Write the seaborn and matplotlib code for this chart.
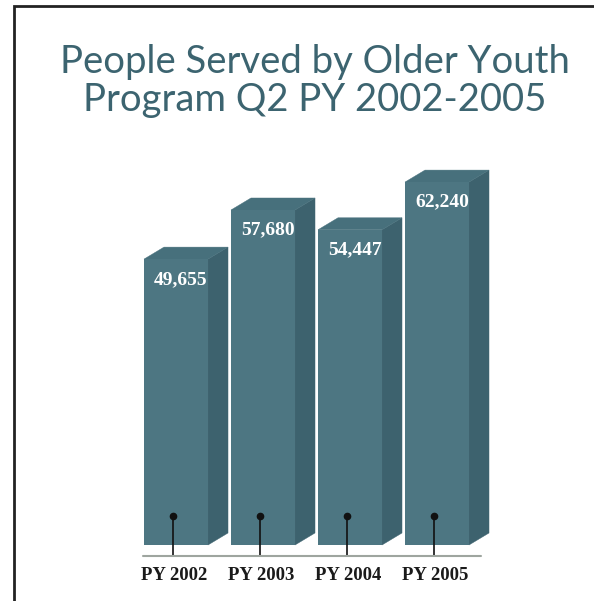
import matplotlib
matplotlib.use("Agg")
import matplotlib.pyplot as plt
from matplotlib.patches import Polygon
from matplotlib.lines import Line2D
import seaborn as sns
import pandas as pd

# Chart data
years = ["PY 2002", "PY 2003", "PY 2004", "PY 2005"]
people_served = [49655, 57680, 54447, 62240]
title = "People Served by Older Youth\nProgram Q2 PY 2002-2005"

FRONT = "#4d7682"
SIDE = "#3d626e"
TOP = "#47707c"
TITLE_COLOR = "#3c6470"

sns.set_theme(style="white")
plt.rcParams["font.family"] = ["Lato", "DejaVu Sans"]

W, H = 594, 601
fig = plt.figure(figsize=(W / 100, H / 100), dpi=100)

# axes placed in pixel terms
ax_left, ax_right, ax_bottom_px, ax_top_px = 130, 500, 545, 150
ax = fig.add_axes([ax_left / W, 1 - ax_bottom_px / H,
                   (ax_right - ax_left) / W, (ax_bottom_px - ax_top_px) / H])

df = pd.DataFrame({"year": years, "people": people_served})
bar_w = 0.736
sns.barplot(data=df, x="year", y="people", color=FRONT, saturation=1,
            width=bar_w, ax=ax, zorder=3, errorbar=None, linewidth=0)
bars = list(ax.patches)

px_per_unit_x = 87.0
px_per_unit_y = 0.00612
y0 = 2940
ax.set_xlim(-(176 - ax_left) / px_per_unit_x, 3 + (ax_right - 437) / px_per_unit_x)
ax.set_ylim(y0, y0 + (ax_bottom_px - ax_top_px) / px_per_unit_y)

dx = 20 / px_per_unit_x
dy = 12 / px_per_unit_y
lo = ax.get_ylim()[0]

for p, v in zip(bars, people_served):
    p.set_edgecolor("none")
    x0 = p.get_x()
    x1 = x0 + p.get_width()
    # side face
    ax.add_patch(Polygon([(x1, lo), (x1 + dx, lo + dy), (x1 + dx, v + dy), (x1, v)],
                         closed=True, facecolor=SIDE, edgecolor=SIDE, lw=0.3,
                         zorder=2, clip_on=False))
    # top face
    ax.add_patch(Polygon([(x0, v), (x1, v), (x1 + dx, v + dy), (x0 + dx, v + dy)],
                         closed=True, facecolor=TOP, edgecolor=TOP, lw=0.3,
                         zorder=2, clip_on=False))
    cx = x0 + p.get_width() / 2
    ax.annotate(f"{v:,}", xy=(cx + 5 / px_per_unit_x, v), xytext=(0, -14.5),
                textcoords="offset points", ha="center", va="center",
                color="white", fontsize=14, fontweight="bold",
                family="Liberation Serif", zorder=5)
    # pin marker with stem to the baseline
    dot_x = cx - 3 / px_per_unit_x
    dot_y = y0 + (ax_bottom_px - 516) / px_per_unit_y
    base_y = y0 - (556 - ax_bottom_px) / px_per_unit_y
    ax.plot([dot_x, dot_x], [dot_y, base_y], color="#111111", lw=1.2,
            zorder=6, clip_on=False)
    ax.plot([dot_x], [dot_y], marker="o", ms=4.5, color="#111111", zorder=7,
            clip_on=False)

ax.set_xticks([p.get_x() + p.get_width() / 2 - 2 / px_per_unit_x for p in bars])
ax.set_xticklabels(years, fontsize=13.5, fontweight="bold",
                   family="Liberation Serif", color="#1a1a1a")
ax.tick_params(axis="x", length=0, pad=16)
ax.set_yticks([])
ax.set_xlabel("")
ax.set_ylabel("")
for s in ax.spines.values():
    s.set_visible(False)
ax.patch.set_alpha(0)

# baseline
fig.add_artist(Line2D([143 / W, 481 / W], [1 - 556 / H, 1 - 556 / H],
                      color="#9ea59f", lw=1.5))

# frame on left and top
fig.add_artist(Line2D([13.5 / W, 13.5 / W, 1.0], [0.0, 1 - 5.5 / H, 1 - 5.5 / H],
                      color="#222222", lw=2.0, solid_joinstyle="miter"))

fig.text(315 / W, 1 - 81 / H, title, ha="center", va="center",
         fontsize=27.5, color=TITLE_COLOR, linespacing=1.05)

fig.savefig("out.png", dpi=100)
